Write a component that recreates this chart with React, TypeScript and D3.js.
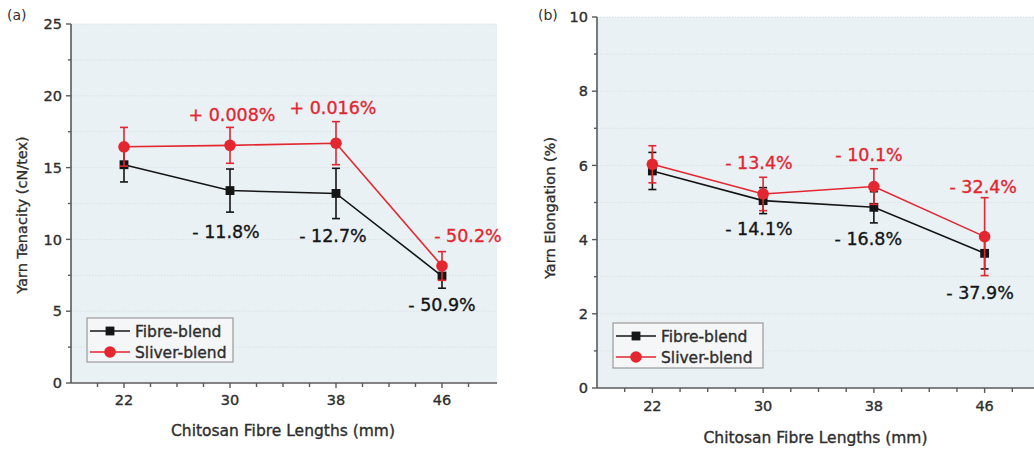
import React from "react";
import * as d3 from "d3";

const lengths = [22, 30, 38, 46];
const seriesNames = ["Fibre-blend", "Sliver-blend"];

const tenacityFibre = [15.2, 13.4, 13.2, 7.45];
const tenacityFibreErr = [1.2, 1.5, 1.75, 0.85];
const tenacitySliver = [16.45, 16.55, 16.7, 8.15];
const tenacitySliverErr = [1.35, 1.25, 1.5, 1.0];

const elongFibre = [5.85, 5.05, 4.87, 3.63];
const elongFibreErr = [0.5, 0.35, 0.42, 0.42];
const elongSliver = [6.03, 5.23, 5.43, 4.08];
const elongSliverErr = [0.5, 0.45, 0.48, 1.05];

const tenacityTicks = [0, 5, 10, 15, 20, 25];
const elongTicks = [0, 2, 4, 6, 8, 10];

// annotation texts with anchor in data coordinates
const tenacityNotes = [
  { t: "+ 0.008%", x: 30.15, y: 18.66, s: 1 },
  { t: "+ 0.016%", x: 37.77, y: 19.15, s: 1 },
  { t: "- 11.8%", x: 29.7, y: 10.52, s: 0 },
  { t: "- 12.7%", x: 37.77, y: 10.24, s: 0 },
  { t: "- 50.2%", x: 47.96, y: 10.24, s: 1 },
  { t: "- 50.9%", x: 46.0, y: 5.43, s: 0 },
];
const elongNotes = [
  { t: "- 13.4%", x: 29.7, y: 6.07, s: 1 },
  { t: "- 10.1%", x: 37.65, y: 6.29, s: 1 },
  { t: "- 32.4%", x: 45.9, y: 5.43, s: 1 },
  { t: "- 14.1%", x: 29.7, y: 4.29, s: 0 },
  { t: "- 16.8%", x: 37.6, y: 4.02, s: 0 },
  { t: "- 37.9%", x: 45.67, y: 2.57, s: 0 },
];

const FONT = "'DejaVu Sans', sans-serif";
const RED = "#e3262f";
const BLACK = "#151515";
const COLORS = [BLACK, RED];
const BG = "#e9f1f5";
const AXIS = "#5a5a5a";
const TXT = "#2e2e2e";

type PanelProps = {
  tag: string;
  tagX: number;
  x0: number;
  x1: number;
  y0: number;
  y1: number;
  bgRight: number;
  yMax: number;
  yTicks: number[];
  gridStep: number;
  minorStep: number;
  values: number[][];
  errs: number[][];
  notes: { t: string; x: number; y: number; s: number }[];
  yLabel: string;
  yLabelX: number;
  yLabelY: number;
  xTitleY: number;
  xTickY: number;
  legend: { x: number; y: number; w: number; h: number };
};

function Panel(p: PanelProps) {
  const xs = d3.scaleLinear().domain([18, 50]).range([p.x0, p.x1]);
  const ys = d3.scaleLinear().domain([0, p.yMax]).range([p.y0, p.y1]);
  const gridVals = d3.range(p.gridStep, p.yMax + 0.001, p.gridStep);
  const minorY = d3.range(0, p.yMax + 0.001, p.minorStep);
  const xMinor = d3.range(20, 50, 2);
  const line = d3
    .line<number>()
    .x((_, i) => xs(lengths[i]))
    .y((d) => ys(d));
  const sym = d3.symbol().type(d3.symbolSquare).size(78);
  const cx = (p.x0 + Math.min(p.x1, p.bgRight)) / 2;
  const heavy = (c: string) => ({ stroke: c, strokeWidth: 0.35 });
  return (
    <g>
      <rect x={p.x0} y={p.y1} width={p.bgRight - p.x0} height={p.y0 - p.y1} fill={BG} />
      {gridVals.map((v) => (
        <line key={"g" + v} x1={p.x0} x2={p.bgRight} y1={ys(v)} y2={ys(v)} stroke="#d9e2e7" strokeWidth={1} strokeDasharray="1.5,1.5" />
      ))}
      <line x1={p.x0} x2={p.x0} y1={p.y0} y2={p.y1} stroke={AXIS} strokeWidth={1.6} />
      <line x1={p.x0} x2={p.bgRight} y1={p.y0} y2={p.y0} stroke={AXIS} strokeWidth={1.6} />
      {minorY.map((v) => {
        const major = p.yTicks.includes(v);
        return <line key={"yt" + v} x1={p.x0 - (major ? 5 : 3)} x2={p.x0} y1={ys(v)} y2={ys(v)} stroke={AXIS} strokeWidth={1.4} />;
      })}
      {xMinor.map((v) => {
        const major = lengths.includes(v);
        return <line key={"xt" + v} x1={xs(v)} x2={xs(v)} y1={p.y0} y2={p.y0 + (major ? 5 : 4)} stroke={AXIS} strokeWidth={1.4} />;
      })}
      {p.yTicks.map((v) => (
        <text key={"yl" + v} x={p.x0 - 9} y={ys(v)} dy="0.36em" textAnchor="end" fontFamily={FONT} fontSize={14.5} fill={TXT} {...heavy(TXT)}>
          {v}
        </text>
      ))}
      {lengths.map((v) => (
        <text key={"xl" + v} x={xs(v)} y={p.xTickY} dy="0.36em" textAnchor="middle" fontFamily={FONT} fontSize={14.5} fill={TXT} {...heavy(TXT)}>
          {v}
        </text>
      ))}
      <text x={cx} y={p.xTitleY} dy="0.36em" textAnchor="middle" fontFamily={FONT} fontSize={15.5} fill={TXT} {...heavy(TXT)}>
        Chitosan Fibre Lengths (mm)
      </text>
      <text
        transform={`translate(${p.yLabelX},${p.yLabelY}) rotate(-90)`}
        dy="0.36em"
        textAnchor="middle"
        fontFamily={FONT}
        fontSize={14.5}
        fill={TXT}
        {...heavy(TXT)}
      >
        {p.yLabel}
      </text>
      <text x={p.tagX} y={20} fontFamily={FONT} fontSize={14} fill={TXT}>
        {p.tag}
      </text>
      {p.values.map((vals, si) => (
        <g key={"s" + si}>
          <path d={line(vals) || ""} fill="none" stroke={COLORS[si]} strokeWidth={1.6} />
          {vals.map((v, i) => {
            const x = xs(lengths[i]);
            const e = p.errs[si][i];
            return (
              <g key={"e" + i} stroke={COLORS[si]} strokeWidth={1.6}>
                <line x1={x} x2={x} y1={ys(v - e)} y2={ys(v + e)} />
                <line x1={x - 4} x2={x + 4} y1={ys(v - e)} y2={ys(v - e)} />
                <line x1={x - 4} x2={x + 4} y1={ys(v + e)} y2={ys(v + e)} />
              </g>
            );
          })}
          {vals.map((v, i) =>
            si === 0 ? (
              <path key={"m" + i} d={sym() || ""} transform={`translate(${xs(lengths[i])},${ys(v)})`} fill={BLACK} />
            ) : (
              <circle key={"m" + i} cx={xs(lengths[i])} cy={ys(v)} r={5.8} fill={RED} />
            )
          )}
        </g>
      ))}
      {p.notes.map((n, i) => (
        <text key={"n" + i} x={xs(n.x)} y={ys(n.y)} dy="0.36em" textAnchor="middle" fontFamily={FONT} fontSize={17.5} fill={n.s ? RED : BLACK} {...heavy(n.s ? RED : BLACK)}>
          {n.t}
        </text>
      ))}
      <rect x={p.legend.x} y={p.legend.y} width={p.legend.w} height={p.legend.h} fill="#f4f6f7" stroke="#9a9a9a" strokeWidth={1.2} />
      {seriesNames.map((nm, i) => {
        const ly = p.legend.y + 13 + i * 21;
        const lx = p.legend.x + 3;
        return (
          <g key={"lg" + i}>
            <line x1={lx} x2={lx + 40} y1={ly} y2={ly} stroke={COLORS[i]} strokeWidth={1.6} />
            {i === 0 ? (
              <path d={sym() || ""} transform={`translate(${lx + 20},${ly})`} fill={BLACK} />
            ) : (
              <circle cx={lx + 20} cy={ly} r={5.8} fill={RED} />
            )}
            <text x={lx + 45} y={ly} dy="0.36em" fontFamily={FONT} fontSize={15.5} fill={TXT} {...heavy(TXT)}>
              {nm}
            </text>
          </g>
        );
      })}
    </g>
  );
}

export default function App() {
  return (
    <svg width={1034} height={450} style={{ position: "absolute", left: 0, top: 0, background: "#fff" }}>
      <Panel
        tag="(a)"
        tagX={7}
        x0={71}
        x1={495}
        y0={383}
        y1={24}
        bgRight={497}
        yMax={25}
        yTicks={tenacityTicks}
        gridStep={2.5}
        minorStep={2.5}
        values={[tenacityFibre, tenacitySliver]}
        errs={[tenacityFibreErr, tenacitySliverErr]}
        notes={tenacityNotes}
        yLabel="Yarn Tenacity (cN/tex)"
        yLabelX={22}
        yLabelY={215}
        xTitleY={430}
        xTickY={400}
        legend={{ x: 87, y: 318, w: 146, h: 44 }}
      />
      <Panel
        tag="(b)"
        tagX={538}
        x0={597}
        x1={1040}
        y0={388}
        y1={17}
        bgRight={1034}
        yMax={10}
        yTicks={elongTicks}
        gridStep={1}
        minorStep={1}
        values={[elongFibre, elongSliver]}
        errs={[elongFibreErr, elongSliverErr]}
        notes={elongNotes}
        yLabel="Yarn Elongation (%)"
        yLabelX={550}
        yLabelY={208}
        xTitleY={437}
        xTickY={406}
        legend={{ x: 613, y: 323, w: 150, h: 45 }}
      />
    </svg>
  );
}
